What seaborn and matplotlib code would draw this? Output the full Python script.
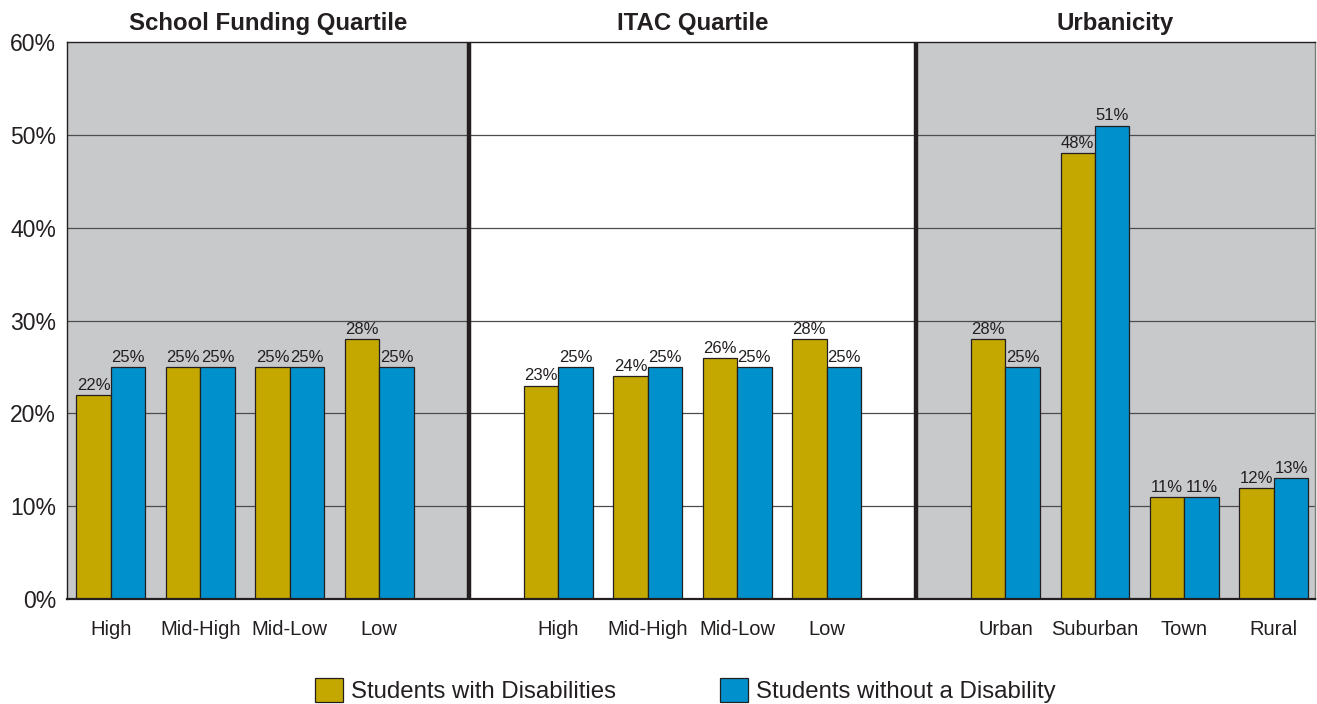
import matplotlib
matplotlib.use("Agg")
import matplotlib.pyplot as plt
from matplotlib import font_manager
from matplotlib.font_manager import FontProperties
from matplotlib.patches import Patch
import seaborn as sns
import pandas as pd

# Group labels within each panel
funding_labels = ["High", "Mid-High", "Mid-Low", "Low"]
itac_labels = ["High", "Mid-High", "Mid-Low", "Low"]
urban_labels = ["Urban", "Suburban", "Town", "Rural"]

panel_titles = ["School Funding Quartile", "ITAC Quartile", "Urbanicity"]
series_names = ["Students with Disabilities", "Students without a Disability"]

# Percent of students in each group
funding_swd = [22, 25, 25, 28]
funding_nod = [25, 25, 25, 25]
itac_swd = [23, 24, 26, 28]
itac_nod = [25, 25, 25, 25]
urban_swd = [28, 48, 11, 12]
urban_nod = [25, 51, 11, 13]

y_ticks = [0, 10, 20, 30, 40, 50, 60]

GOLD = "#C4A800"
BLUE = "#0090CC"
GRAY_BG = "#C8C9CB"
INK = "#231F20"

sns.set_theme(style="white")
plt.rcParams["font.family"] = ["Liberation Sans", "DejaVu Sans"]

# Bold face: pick the regular-width Liberation Sans Bold file directly
bold_file = None
for f in font_manager.fontManager.ttflist:
    if f.fname.endswith("LiberationSans-Bold.ttf"):
        bold_file = f.fname
        break
if bold_file:
    title_font = FontProperties(fname=bold_file, size=17.3)
else:
    title_font = FontProperties(family="DejaVu Sans", weight="bold", size=16)

# Build a long table; panels are separated by an empty slot on the x axis
panels = [
    (funding_labels, funding_swd, funding_nod),
    (itac_labels, itac_swd, itac_nod),
    (urban_labels, urban_swd, urban_nod),
]
rows = []
tick_pos, tick_lab = [], []
for p, (labels, swd, nod) in enumerate(panels):
    for i, lab in enumerate(labels):
        pos = p * 5 + i
        tick_pos.append(pos)
        tick_lab.append(lab)
        rows.append({"pos": pos, "value": swd[i], "group": series_names[0]})
        rows.append({"pos": pos, "value": nod[i], "group": series_names[1]})
df = pd.DataFrame(rows)

fig = plt.figure(figsize=(13.17, 7.04), dpi=100)
ax = fig.add_axes([0.0509, 0.1491, 0.9476, 0.7912])

x_left, x_right = -0.49, 13.46

# Panel backgrounds
ax.axvspan(x_left, 4, color=GRAY_BG, zorder=0, lw=0)
ax.axvspan(4, 9, color="white", zorder=0, lw=0)
ax.axvspan(9, x_right, color=GRAY_BG, zorder=0, lw=0)

# Horizontal gridlines
for yv in y_ticks[1:-1]:
    ax.axhline(yv, color="#4D4D4D", lw=0.9, zorder=0.8)

sns.barplot(
    data=df, x="pos", y="value", hue="group", hue_order=series_names,
    native_scale=True, width=0.77, palette=[GOLD, BLUE],
    edgecolor=INK, linewidth=0.9, errorbar=None, legend=False,
    saturation=1, ax=ax, zorder=2,
)

for cont in ax.containers:
    ax.bar_label(cont, fmt="{:.0f}%", fontsize=12, color=INK, padding=1.5)

# Panel dividers
for xv in (4, 9):
    ax.axvline(xv, color=INK, lw=3.2, zorder=3)

ax.set_xlim(x_left, x_right)
ax.set_ylim(0, 60)
ax.set_yticks(y_ticks)
ax.set_yticklabels([f"{v}%" for v in y_ticks], fontsize=16.5, color=INK)
ax.set_xticks(tick_pos)
ax.set_xticklabels(tick_lab, fontsize=14.5, color=INK)
ax.tick_params(axis="y", length=0, pad=8)
ax.tick_params(axis="x", length=0, pad=15)
ax.set_xlabel("")
ax.set_ylabel("")

for side in ("left", "top", "bottom"):
    ax.spines[side].set_color(INK)
    ax.spines[side].set_linewidth(1.0)
ax.spines["bottom"].set_linewidth(1.6)
ax.spines["right"].set_color("#7A7A7A")
ax.spines["right"].set_linewidth(1.0)
for sp in ax.spines.values():
    sp.set_zorder(4)

# Panel titles
centers = [(x_left + 4) / 2, 6.5, (9 + x_right) / 2]
for c, t in zip(centers, panel_titles):
    ax.text(c, 1.0 + 19 / 558, t, transform=ax.get_xaxis_transform(),
            ha="center", va="center", fontproperties=title_font, color=INK)

handles = [Patch(facecolor=GOLD, edgecolor=INK, lw=0.9),
           Patch(facecolor=BLUE, edgecolor=INK, lw=0.9)]
fig.legend(handles, series_names, loc="lower center", bbox_to_anchor=(0.5205, -0.016),
           ncol=2, frameon=False, fontsize=17.3, handlelength=1.165, handleheight=1.2,
           handletextpad=0.33, columnspacing=4.33, borderpad=0.0, labelcolor=INK)

fig.savefig("out.png", dpi=100)
